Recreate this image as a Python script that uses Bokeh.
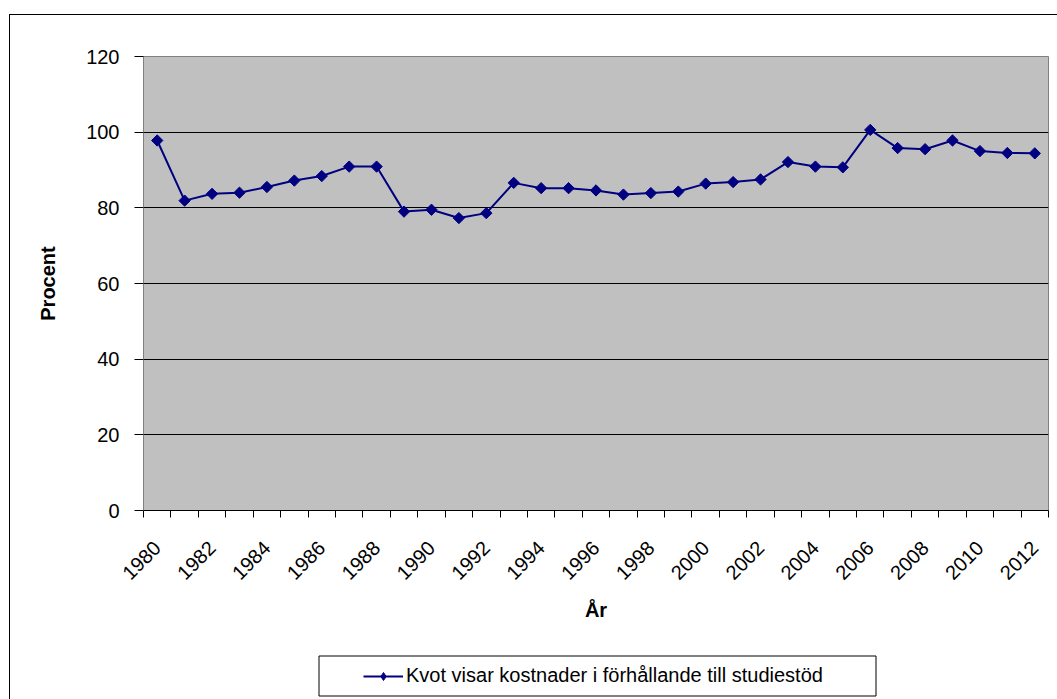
from math import pi
from bokeh.plotting import figure
from bokeh.layouts import column
from bokeh.models import (FixedTicker, Range1d, Legend, LegendItem, BoxAnnotation,
                          BasicTickFormatter)
from bokeh.embed import file_html
from bokeh.resources import INLINE

# ---- data ----
years = list(range(1980, 2013))
values = [97.8, 81.9, 83.7, 84.0, 85.5, 87.2, 88.4, 90.9, 90.9, 79.0, 79.5,
          77.3, 78.6, 86.6, 85.2, 85.2, 84.6, 83.5, 83.9, 84.3, 86.4, 86.8,
          87.5, 92.1, 90.9, 90.7, 100.6, 95.8, 95.5, 97.8, 95.0, 94.5, 94.4]
x_label_years = list(range(1980, 2013, 2))
y_ticks = [0, 20, 40, 60, 80, 100, 120]
series_name = "Kvot visar kostnader i förhållande till studiestöd"
x_title = "År"
y_title = "Procent"

FONT = "Liberation Sans"
NAVY = "#000080"

# whole chart sits inside an outer border starting at page (9, 14)
W, H1, H2 = 1047, 635, 49

# ---------------- main chart ----------------
p = figure(width=W, height=H1, output_backend="svg", toolbar_location=None,
           x_range=Range1d(years[0] - 0.5, years[-1] + 0.5),
           y_range=Range1d(0, 120),
           min_border_left=133, min_border_right=9,
           min_border_top=41, min_border_bottom=140)

p.background_fill_color = "#C0C0C0"
p.border_fill_color = "white"
p.outline_line_color = "#808080"
p.outline_line_width = 1

p.xgrid.grid_line_color = None
p.ygrid.grid_line_color = "black"
p.ygrid.grid_line_width = 1
p.ygrid.ticker = FixedTicker(ticks=y_ticks)

ya = p.yaxis[0]
ya.ticker = FixedTicker(ticks=y_ticks)
ya.axis_line_color = "#808080"
ya.major_tick_line_color = "black"
ya.major_tick_out = 9
ya.major_tick_in = 0
ya.minor_tick_line_color = None
ya.major_label_text_font = FONT
ya.major_label_text_font_size = "20px"
ya.major_label_text_color = "black"
ya.major_label_standoff = 15
ya.axis_label = y_title
ya.axis_label_text_font = FONT
ya.axis_label_text_font_size = "20px"
ya.axis_label_text_font_style = "bold"
ya.axis_label_text_color = "black"
ya.axis_label_standoff = 24

# x axis: labels at even years (category centres), ticks between categories
boundaries = [y - 0.5 for y in years] + [years[-1] + 0.5]
xa = p.xaxis[0]
xa.ticker = FixedTicker(ticks=x_label_years, minor_ticks=boundaries)
xa.formatter = BasicTickFormatter(use_scientific=False)
xa.axis_line_color = "black"
xa.major_tick_line_color = None
xa.major_tick_out = 0
xa.major_tick_in = 0
xa.minor_tick_line_color = "black"
xa.minor_tick_out = 7
xa.minor_tick_in = 0
xa.major_label_orientation = pi / 4
xa.major_label_text_font = FONT
xa.major_label_text_font_size = "20px"
xa.major_label_text_color = "black"
xa.major_label_standoff = 27
xa.axis_label = x_title
xa.axis_label_text_font = FONT
xa.axis_label_text_font_size = "20px"
xa.axis_label_text_font_style = "bold"
xa.axis_label_text_color = "black"
xa.axis_label_standoff = 10

p.line(years, values, line_color=NAVY, line_width=2)
p.scatter(years, values, marker="square", angle=pi / 4, size=8,
          fill_color=NAVY, line_color=NAVY)

# ---------------- legend strip ----------------
p2 = figure(width=W, height=H2, output_backend="svg", toolbar_location=None,
            x_range=Range1d(0, 1), y_range=Range1d(0, 1),
            x_axis_location=None, y_axis_location=None,
            min_border_left=0, min_border_right=0,
            min_border_top=0, min_border_bottom=0)
p2.outline_line_color = None
p2.background_fill_color = "white"
p2.border_fill_color = "white"
p2.xgrid.grid_line_color = None
p2.ygrid.grid_line_color = None

# same series, outside the strip's visible range: only feeds the legend glyph
ln2 = p2.line(years, values, line_color=NAVY, line_width=2)
sc2 = p2.scatter(years, values, marker="diamond", size=12,
                 fill_color=NAVY, line_color=NAVY)

p2.add_layout(BoxAnnotation(left=308.5, right=865.5, top=5.5, bottom=45.5,
                            left_units="canvas", right_units="canvas",
                            top_units="canvas", bottom_units="canvas",
                            fill_color="white", fill_alpha=1,
                            line_color="black", line_alpha=1, line_width=1))

legend = Legend(items=[LegendItem(label=series_name, renderers=[ln2, sc2])],
                location=(220, 12),
                border_line_alpha=0, background_fill_alpha=0,
                glyph_width=40, glyph_height=20, padding=0, margin=0,
                label_standoff=3, label_height=20,
                label_text_font=FONT, label_text_font_size="20px",
                label_text_color="black")
p2.add_layout(legend, "center")

layout = column(p, p2, spacing=0)
layout.styles = {"margin-left": "9px", "margin-top": "14px",
                 "border-left": "1px solid black", "border-top": "1px solid black"}

open("out.html", "w").write(file_html(layout, INLINE))
